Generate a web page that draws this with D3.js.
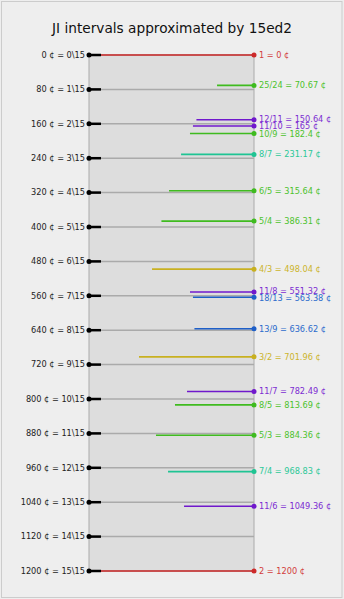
<!DOCTYPE html>
<html>
<head>
<meta charset="utf-8">
<script src="https://cdn.jsdelivr.net/npm/d3@7"></script>
<style>
  html, body { margin: 0; padding: 0; background: #eeeeee; }
  svg { display: block; font-family: "DejaVu Sans", sans-serif; }
</style>
</head>
<body>
<svg id="chart" width="344" height="599"></svg>
<script>
// 15 equal steps of the octave
const edo = 15;
const steps = d3.range(0, edo + 1);

// JI intervals, their sizes in cents, prime limit and weight (drawn line length)
const ratios = ["1", "25/24", "12/11", "11/10", "10/9", "8/7", "6/5", "5/4", "4/3", "11/8",
  "18/13", "13/9", "3/2", "11/7", "8/5", "5/3", "7/4", "11/6", "2"];
const jiCents = [0, 70.67, 150.64, 165, 182.4, 231.17, 315.64, 386.31, 498.04, 551.32,
  563.38, 636.62, 701.96, 782.49, 813.69, 884.36, 968.83, 1049.36, 1200];
const limits = [2, 5, 11, 11, 5, 7, 5, 5, 3, 11, 13, 13, 3, 11, 5, 5, 7, 11, 2];
const weights = [1, 0.224, 0.349, 0.37, 0.388, 0.442, 0.515, 0.561, 0.618, 0.388,
  0.37, 0.361, 0.697, 0.406, 0.479, 0.594, 0.521, 0.424, 1];

const limitColor = {
  2: "#cc2a2a",
  3: "#c8b020",
  5: "#3fbb1f",
  7: "#1fc493",
  11: "#7018cc",
  13: "#1e5fc8"
};
const textColor = {
  2: "#d23c3c",
  3: "#ccb42c",
  5: "#4cc22c",
  7: "#2cc898",
  11: "#7c2cd2",
  13: "#2c6ccc"
};

const width = 344, height = 599;
const plotLeft = 89, plotRight = 254, plotTop = 55, plotBottom = 571;
const labelSize = 8.2;
const minGap = 7.5;

const svg = d3.select("#chart");

// page border
svg.append("rect")
  .attr("x", 1.5).attr("y", 1.5)
  .attr("width", width - 3.5).attr("height", height - 3)
  .attr("fill", "#eeeeee")
  .attr("stroke", "#cccccc");

// title
svg.append("text")
  .attr("x", width / 2).attr("y", 33)
  .attr("text-anchor", "middle")
  .attr("font-size", 13.7)
  .attr("fill", "#111")
  .text("JI intervals approximated by 15ed2");

// scales
const y = d3.scaleLinear().domain([0, 1200]).range([plotTop, plotBottom]);
const x = d3.scaleLinear().domain([0, 1]).range([plotRight, plotLeft]);

// plot area
svg.append("rect")
  .attr("x", x(1)).attr("y", y(0))
  .attr("width", x(0) - x(1)).attr("height", y(1200) - y(0))
  .attr("fill", "#dddddd");

svg.append("g").selectAll("line")
  .data([0, 1])
  .join("line")
  .attr("x1", d => x(d)).attr("x2", d => x(d))
  .attr("y1", y(0)).attr("y2", y(1200))
  .attr("stroke", "#aaaaaa").attr("stroke-width", 1);

// grid lines for each step
svg.append("g").selectAll("line")
  .data(steps)
  .join("line")
  .attr("x1", x(1)).attr("x2", x(0))
  .attr("y1", d => y(d * 1200 / edo)).attr("y2", d => y(d * 1200 / edo))
  .attr("stroke", "#aaaaaa").attr("stroke-width", 1.5);

// JI lines
const ji = ratios.map((r, i) => ({ ratio: r, cents: jiCents[i], limit: limits[i], w: weights[i] }));

// spread labels that sit too close together
ji.forEach(d => { d.ly = y(d.cents); });
for (let pass = 0; pass < 10; pass++) {
  for (let i = 1; i < ji.length; i++) {
    const gap = ji[i].ly - ji[i - 1].ly;
    if (gap < minGap) {
      const push = (minGap - gap) / 2;
      ji[i - 1].ly -= push;
      ji[i].ly += push;
    }
  }
}

svg.append("g").selectAll("line")
  .data(ji)
  .join("line")
  .attr("x1", d => x(d.w)).attr("x2", x(0))
  .attr("y1", d => y(d.cents)).attr("y2", d => y(d.cents))
  .attr("stroke", d => limitColor[d.limit])
  .attr("stroke-width", 1.6);

// step ticks
const stepG = svg.append("g");
stepG.selectAll("line")
  .data(steps)
  .join("line")
  .attr("x1", x(1)).attr("x2", x(1) + 12)
  .attr("y1", d => y(d * 1200 / edo)).attr("y2", d => y(d * 1200 / edo))
  .attr("stroke", "#000").attr("stroke-width", 2.5);
stepG.selectAll("circle")
  .data(steps)
  .join("circle")
  .attr("cx", x(1)).attr("cy", d => y(d * 1200 / edo))
  .attr("r", 2.5).attr("fill", "#000");
stepG.selectAll("text")
  .data(steps)
  .join("text")
  .attr("x", x(1) - 4).attr("y", d => y(d * 1200 / edo))
  .attr("dy", "0.35em")
  .attr("text-anchor", "end")
  .attr("font-size", labelSize)
  .attr("fill", "#222")
  .text(d => `${d * 1200 / edo} ¢ = ${d}\\${edo}`);

// JI dots and labels
const jiG = svg.append("g");
jiG.selectAll("circle")
  .data(ji)
  .join("circle")
  .attr("cx", x(0)).attr("cy", d => y(d.cents))
  .attr("r", 2.5).attr("fill", d => limitColor[d.limit]);
jiG.selectAll("text")
  .data(ji)
  .join("text")
  .attr("x", x(0) + 5).attr("y", d => d.ly)
  .attr("dy", "0.35em")
  .attr("font-size", labelSize)
  .attr("fill", d => textColor[d.limit])
  .text(d => `${d.ratio} = ${d.cents} ¢`);
</script>
</body>
</html>
